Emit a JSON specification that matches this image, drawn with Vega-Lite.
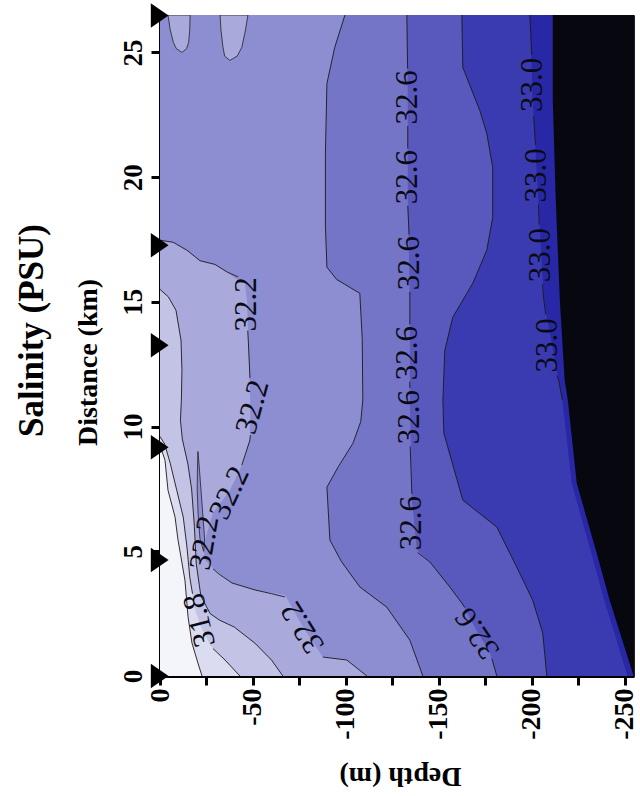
{
  "$schema": "https://vega.github.io/schema/vega-lite/v6.json",
  "width": 474,
  "height": 661,
  "autosize": {"type": "none"},
  "padding": {"left": 160, "top": 15, "right": 6, "bottom": 120},
  "background": "white",
  "config": {
    "view": {"stroke": "#222", "strokeWidth": 1},
    "font": "Liberation Serif"
  },
  "title": {
    "text": "Salinity (PSU)",
    "orient": "left",
    "anchor": "middle",
    "font": "Liberation Serif",
    "fontWeight": "bold",
    "fontSize": 35,
    "offset": 24,
    "dx": 15,
    "color": "#000"
  },
  "datasets": {
    "bands": [
      {"s": "A", "b": "A", "dist": 0, "d1": 0, "d2": -260},
      {"s": "A", "b": "A", "dist": 26.5, "d1": 0, "d2": -260},

      {"s": "B", "b": "B", "dist": 0, "d1": -22.6, "d2": -260},
      {"s": "B", "b": "B", "dist": 0.52, "d1": -20.4, "d2": -260},
      {"s": "B", "b": "B", "dist": 1.32, "d1": -17.2, "d2": -260},
      {"s": "B", "b": "B", "dist": 2.36, "d1": -15.1, "d2": -260},
      {"s": "B", "b": "B", "dist": 3.85, "d1": -13.4, "d2": -260},
      {"s": "B", "b": "B", "dist": 5.45, "d1": -9.7, "d2": -260},
      {"s": "B", "b": "B", "dist": 6.37, "d1": -8.1, "d2": -260},
      {"s": "B", "b": "B", "dist": 7.45, "d1": -4.3, "d2": -260},
      {"s": "B", "b": "B", "dist": 8.65, "d1": -2.7, "d2": -260},
      {"s": "B", "b": "B", "dist": 9.25, "d1": 0, "d2": -260},
      {"s": "B", "b": "B", "dist": 26.5, "d1": 0, "d2": -260},

      {"s": "C", "b": "C", "dist": 0, "d1": -43, "d2": -260},
      {"s": "C", "b": "C", "dist": 0.64, "d1": -35, "d2": -260},
      {"s": "C", "b": "C", "dist": 1.24, "d1": -27, "d2": -260},
      {"s": "C", "b": "C", "dist": 1.96, "d1": -22, "d2": -260},
      {"s": "C", "b": "C", "dist": 2.76, "d1": -18.5, "d2": -260},
      {"s": "C", "b": "C", "dist": 3.97, "d1": -16, "d2": -260},
      {"s": "C", "b": "C", "dist": 5.17, "d1": -14.5, "d2": -260},
      {"s": "C", "b": "C", "dist": 6.37, "d1": -12.5, "d2": -260},
      {"s": "C", "b": "C", "dist": 7.45, "d1": -9, "d2": -260},
      {"s": "C", "b": "C", "dist": 8.53, "d1": -5.5, "d2": -260},
      {"s": "C", "b": "C", "dist": 9.3, "d1": -2.5, "d2": -260},
      {"s": "C", "b": "C", "dist": 9.6, "d1": 0, "d2": -260},
      {"s": "C", "b": "C", "dist": 26.5, "d1": 0, "d2": -260},

      {"s": "D", "b": "D", "dist": 0, "d1": -66.1, "d2": -260},
      {"s": "D", "b": "D", "dist": 0.64, "d1": -60, "d2": -260},
      {"s": "D", "b": "D", "dist": 1.32, "d1": -51, "d2": -260},
      {"s": "D", "b": "D", "dist": 1.96, "d1": -40, "d2": -260},
      {"s": "D", "b": "D", "dist": 2.24, "d1": -32, "d2": -260},
      {"s": "D", "b": "D", "dist": 2.5, "d1": -27, "d2": -260},
      {"s": "D", "b": "D", "dist": 3.2, "d1": -22, "d2": -260},
      {"s": "D", "b": "D", "dist": 4.5, "d1": -19.5, "d2": -260},
      {"s": "D", "b": "D", "dist": 6, "d1": -18.5, "d2": -260},
      {"s": "D", "b": "D", "dist": 7.5, "d1": -17, "d2": -260},
      {"s": "D", "b": "D", "dist": 8.5, "d1": -15, "d2": -260},
      {"s": "D", "b": "D", "dist": 9.5, "d1": -12, "d2": -260},
      {"s": "D", "b": "D", "dist": 10.26, "d1": -11, "d2": -260},
      {"s": "D", "b": "D", "dist": 11.06, "d1": -11.5, "d2": -260},
      {"s": "D", "b": "D", "dist": 12.26, "d1": -11.8, "d2": -260},
      {"s": "D", "b": "D", "dist": 13.46, "d1": -11.3, "d2": -260},
      {"s": "D", "b": "D", "dist": 14.66, "d1": -8.6, "d2": -260},
      {"s": "D", "b": "D", "dist": 15.2, "d1": -4.5, "d2": -260},
      {"s": "D", "b": "D", "dist": 15.5, "d1": 0, "d2": -260},
      {"s": "D", "b": "D", "dist": 26.5, "d1": 0, "d2": -260},

      {"s": "E", "b": "E", "dist": 0, "d1": -111.3, "d2": -260},
      {"s": "E", "b": "E", "dist": 0.64, "d1": -100.5, "d2": -260},
      {"s": "E", "b": "E", "dist": 0.76, "d1": -87.6, "d2": -260},
      {"s": "E", "b": "E", "dist": 1.96, "d1": -76.9, "d2": -260},
      {"s": "E", "b": "E", "dist": 3.25, "d1": -67.2, "d2": -260},
      {"s": "E", "b": "E", "dist": 3.45, "d1": -51.1, "d2": -260},
      {"s": "E", "b": "E", "dist": 3.73, "d1": -38.7, "d2": -260},
      {"s": "E", "b": "E", "dist": 4.25, "d1": -29.6, "d2": -260},
      {"s": "E", "b": "E", "dist": 4.65, "d1": -24.2, "d2": -260},
      {"s": "E", "b": "E", "dist": 5.17, "d1": -23.1, "d2": -260},
      {"s": "E", "b": "E", "dist": 6.53, "d1": -28.5, "d2": -260},
      {"s": "E", "b": "E", "dist": 7.45, "d1": -37.6, "d2": -260},
      {"s": "E", "b": "E", "dist": 8.53, "d1": -44.6, "d2": -260},
      {"s": "E", "b": "E", "dist": 9.46, "d1": -48.4, "d2": -260},
      {"s": "E", "b": "E", "dist": 11.06, "d1": -48.5, "d2": -260},
      {"s": "E", "b": "E", "dist": 13.46, "d1": -47.5, "d2": -260},
      {"s": "E", "b": "E", "dist": 15.06, "d1": -46.8, "d2": -260},
      {"s": "E", "b": "E", "dist": 15.75, "d1": -45.7, "d2": -260},
      {"s": "E", "b": "E", "dist": 15.95, "d1": -40.3, "d2": -260},
      {"s": "E", "b": "E", "dist": 16.2, "d1": -36, "d2": -260},
      {"s": "E", "b": "E", "dist": 16.5, "d1": -29.6, "d2": -260},
      {"s": "E", "b": "E", "dist": 16.65, "d1": -21.5, "d2": -260},
      {"s": "E", "b": "E", "dist": 17.07, "d1": -14.5, "d2": -260},
      {"s": "E", "b": "E", "dist": 17.39, "d1": -7, "d2": -260},
      {"s": "E", "b": "E", "dist": 17.47, "d1": 0, "d2": -260},
      {"s": "E", "b": "E", "dist": 26.5, "d1": 0, "d2": -260},

      {"s": "S", "b": "E", "dist": 5.0, "d1": -23.5, "d2": -23.5},
      {"s": "S", "b": "E", "dist": 5.5, "d1": -21.5, "d2": -24},
      {"s": "S", "b": "E", "dist": 6.5, "d1": -20.5, "d2": -23},
      {"s": "S", "b": "E", "dist": 7.5, "d1": -20, "d2": -22},
      {"s": "S", "b": "E", "dist": 8.5, "d1": -20.2, "d2": -21},
      {"s": "S", "b": "E", "dist": 9.0, "d1": -20.4, "d2": -20.4},

      {"s": "L1", "b": "D", "dist": 25.0, "d1": -11.8, "d2": -11.8},
      {"s": "L1", "b": "D", "dist": 25.15, "d1": -8.8, "d2": -14.3},
      {"s": "L1", "b": "D", "dist": 25.4, "d1": -7.2, "d2": -15.4},
      {"s": "L1", "b": "D", "dist": 25.9, "d1": -5.5, "d2": -16},
      {"s": "L1", "b": "D", "dist": 26.5, "d1": -4.3, "d2": -16.2},

      {"s": "L2", "b": "D", "dist": 24.68, "d1": -37.6, "d2": -37.6},
      {"s": "L2", "b": "D", "dist": 24.85, "d1": -34.8, "d2": -41.5},
      {"s": "L2", "b": "D", "dist": 25.2, "d1": -33.9, "d2": -44},
      {"s": "L2", "b": "D", "dist": 25.9, "d1": -32.8, "d2": -46},
      {"s": "L2", "b": "D", "dist": 26.5, "d1": -32.3, "d2": -47.3},

      {"s": "F", "b": "F", "dist": 0, "d1": -141.4, "d2": -260},
      {"s": "F", "b": "F", "dist": 1.44, "d1": -134.4, "d2": -260},
      {"s": "F", "b": "F", "dist": 2.76, "d1": -122, "d2": -260},
      {"s": "F", "b": "F", "dist": 3.57, "d1": -107.5, "d2": -260},
      {"s": "F", "b": "F", "dist": 4.6, "d1": -97.5, "d2": -260},
      {"s": "F", "b": "F", "dist": 5.45, "d1": -91.4, "d2": -260},
      {"s": "F", "b": "F", "dist": 7.57, "d1": -89.8, "d2": -260},
      {"s": "F", "b": "F", "dist": 8.4, "d1": -96, "d2": -260},
      {"s": "F", "b": "F", "dist": 9.33, "d1": -103.8, "d2": -260},
      {"s": "F", "b": "F", "dist": 10.2, "d1": -108, "d2": -260},
      {"s": "F", "b": "F", "dist": 11.06, "d1": -109.1, "d2": -260},
      {"s": "F", "b": "F", "dist": 13.5, "d1": -108.8, "d2": -260},
      {"s": "F", "b": "F", "dist": 15.34, "d1": -107.5, "d2": -260},
      {"s": "F", "b": "F", "dist": 15.9, "d1": -95, "d2": -260},
      {"s": "F", "b": "F", "dist": 16.39, "d1": -89.8, "d2": -260},
      {"s": "F", "b": "F", "dist": 18, "d1": -89, "d2": -260},
      {"s": "F", "b": "F", "dist": 21, "d1": -89, "d2": -260},
      {"s": "F", "b": "F", "dist": 23.76, "d1": -89.8, "d2": -260},
      {"s": "F", "b": "F", "dist": 25.2, "d1": -94, "d2": -260},
      {"s": "F", "b": "F", "dist": 26.5, "d1": -99.5, "d2": -260},

      {"s": "G", "b": "G", "dist": 0, "d1": -181.2, "d2": -260},
      {"s": "G", "b": "G", "dist": 0.96, "d1": -177.4, "d2": -260},
      {"s": "G", "b": "G", "dist": 1.72, "d1": -171, "d2": -260},
      {"s": "G", "b": "G", "dist": 2.92, "d1": -162.4, "d2": -260},
      {"s": "G", "b": "G", "dist": 3.57, "d1": -155.9, "d2": -260},
      {"s": "G", "b": "G", "dist": 4.57, "d1": -145.2, "d2": -260},
      {"s": "G", "b": "G", "dist": 5.05, "d1": -138.2, "d2": -260},
      {"s": "G", "b": "G", "dist": 7.05, "d1": -135.5, "d2": -260},
      {"s": "G", "b": "G", "dist": 11.06, "d1": -134.4, "d2": -260},
      {"s": "G", "b": "G", "dist": 15.06, "d1": -134.4, "d2": -260},
      {"s": "G", "b": "G", "dist": 19.07, "d1": -133.3, "d2": -260},
      {"s": "G", "b": "G", "dist": 23.08, "d1": -133.3, "d2": -260},
      {"s": "G", "b": "G", "dist": 26.5, "d1": -132.8, "d2": -260},

      {"s": "H", "b": "H", "dist": 0, "d1": -208.1, "d2": -260},
      {"s": "H", "b": "H", "dist": 1.72, "d1": -205.9, "d2": -260},
      {"s": "H", "b": "H", "dist": 3.04, "d1": -200.5, "d2": -260},
      {"s": "H", "b": "H", "dist": 4.37, "d1": -191.9, "d2": -260},
      {"s": "H", "b": "H", "dist": 5.97, "d1": -181.2, "d2": -260},
      {"s": "H", "b": "H", "dist": 7.05, "d1": -162.9, "d2": -260},
      {"s": "H", "b": "H", "dist": 9.74, "d1": -152.7, "d2": -260},
      {"s": "H", "b": "H", "dist": 11.06, "d1": -152.2, "d2": -260},
      {"s": "H", "b": "H", "dist": 13.06, "d1": -153.2, "d2": -260},
      {"s": "H", "b": "H", "dist": 14.38, "d1": -157.5, "d2": -260},
      {"s": "H", "b": "H", "dist": 15.75, "d1": -168.3, "d2": -260},
      {"s": "H", "b": "H", "dist": 17.07, "d1": -175.8, "d2": -260},
      {"s": "H", "b": "H", "dist": 18.39, "d1": -179, "d2": -260},
      {"s": "H", "b": "H", "dist": 20.39, "d1": -179, "d2": -260},
      {"s": "H", "b": "H", "dist": 21.75, "d1": -175.8, "d2": -260},
      {"s": "H", "b": "H", "dist": 22.68, "d1": -172, "d2": -260},
      {"s": "H", "b": "H", "dist": 24.4, "d1": -162.9, "d2": -260},
      {"s": "H", "b": "H", "dist": 26.5, "d1": -162.4, "d2": -260},

      {"s": "I", "b": "I", "dist": 0, "d1": -251.5, "d2": -260},
      {"s": "I", "b": "I", "dist": 3.04, "d1": -239, "d2": -260},
      {"s": "I", "b": "I", "dist": 4.93, "d1": -232, "d2": -260},
      {"s": "I", "b": "I", "dist": 7.73, "d1": -221.5, "d2": -260},
      {"s": "I", "b": "I", "dist": 11.06, "d1": -216.5, "d2": -260},
      {"s": "I", "b": "I", "dist": 11.86, "d1": -214.5, "d2": -260},
      {"s": "I", "b": "I", "dist": 15.06, "d1": -206.5, "d2": -260},
      {"s": "I", "b": "I", "dist": 19.07, "d1": -203.5, "d2": -260},
      {"s": "I", "b": "I", "dist": 23.08, "d1": -200.5, "d2": -260},
      {"s": "I", "b": "I", "dist": 26.5, "d1": -199, "d2": -260},

      {"s": "J", "b": "J", "dist": 0, "d1": -254.8, "d2": -260},
      {"s": "J", "b": "J", "dist": 3.04, "d1": -241.9, "d2": -260},
      {"s": "J", "b": "J", "dist": 4.93, "d1": -234.9, "d2": -260},
      {"s": "J", "b": "J", "dist": 7.73, "d1": -224.2, "d2": -260},
      {"s": "J", "b": "J", "dist": 11.06, "d1": -219.4, "d2": -260},
      {"s": "J", "b": "J", "dist": 11.86, "d1": -217.7, "d2": -260},
      {"s": "J", "b": "J", "dist": 15.06, "d1": -215.1, "d2": -260},
      {"s": "J", "b": "J", "dist": 19.07, "d1": -212.9, "d2": -260},
      {"s": "J", "b": "J", "dist": 23.08, "d1": -211.3, "d2": -260},
      {"s": "J", "b": "J", "dist": 26.5, "d1": -211.3, "d2": -260}
    ],
    "lines": [
      {"seg": "w", "dist": 0, "depth": -22.6},
      {"seg": "w", "dist": 0.52, "depth": -20.4},
      {"seg": "w", "dist": 1.32, "depth": -17.2},
      {"seg": "w", "dist": 2.36, "depth": -15.1},
      {"seg": "w", "dist": 3.85, "depth": -13.4},
      {"seg": "w", "dist": 5.45, "depth": -9.7},
      {"seg": "w", "dist": 6.37, "depth": -8.1},
      {"seg": "w", "dist": 7.45, "depth": -4.3},
      {"seg": "w", "dist": 8.65, "depth": -2.7},
      {"seg": "w", "dist": 9.25, "depth": 0},

      {"seg": "a1", "dist": 0, "depth": -43},
      {"seg": "a1", "dist": 0.64, "depth": -35},
      {"seg": "a1", "dist": 1.1, "depth": -28.5},
      {"seg": "a2", "dist": 3.3, "depth": -17.5},
      {"seg": "a2", "dist": 3.97, "depth": -16},
      {"seg": "a2", "dist": 5.17, "depth": -14.5},
      {"seg": "a2", "dist": 6.37, "depth": -12.5},
      {"seg": "a2", "dist": 7.45, "depth": -9},
      {"seg": "a2", "dist": 8.53, "depth": -5.5},
      {"seg": "a2", "dist": 9.3, "depth": -2.5},
      {"seg": "a2", "dist": 9.6, "depth": 0},

      {"seg": "b", "dist": 0, "depth": -66.1},
      {"seg": "b", "dist": 0.64, "depth": -60},
      {"seg": "b", "dist": 1.32, "depth": -51},
      {"seg": "b", "dist": 1.96, "depth": -40},
      {"seg": "b", "dist": 2.24, "depth": -32},
      {"seg": "b", "dist": 2.5, "depth": -27},
      {"seg": "b", "dist": 3.2, "depth": -22},
      {"seg": "b", "dist": 4.5, "depth": -19.5},
      {"seg": "b", "dist": 6, "depth": -18.5},
      {"seg": "b", "dist": 7.5, "depth": -17},
      {"seg": "b", "dist": 8.5, "depth": -15},
      {"seg": "b", "dist": 9.5, "depth": -12},
      {"seg": "b", "dist": 10.26, "depth": -11},
      {"seg": "b", "dist": 11.06, "depth": -11.5},
      {"seg": "b", "dist": 12.26, "depth": -11.8},
      {"seg": "b", "dist": 13.46, "depth": -11.3},
      {"seg": "b", "dist": 14.66, "depth": -8.6},
      {"seg": "b", "dist": 15.2, "depth": -4.5},
      {"seg": "b", "dist": 15.5, "depth": 0},

      {"seg": "c1", "dist": 0, "depth": -111.3},
      {"seg": "c1", "dist": 0.64, "depth": -100.5},
      {"seg": "c1", "dist": 0.76, "depth": -87.6},
      {"seg": "c2", "dist": 3.17, "depth": -67.2},
      {"seg": "c2", "dist": 3.3, "depth": -60},
      {"seg": "c2", "dist": 3.45, "depth": -51.1},
      {"seg": "c2", "dist": 3.73, "depth": -38.7},
      {"seg": "c2", "dist": 4.1, "depth": -31.5},
      {"seg": "c2", "dist": 4.3, "depth": -28.5},
      {"seg": "c3", "dist": 8.45, "depth": -44},
      {"seg": "c3", "dist": 9.46, "depth": -48.4},
      {"seg": "c3", "dist": 9.65, "depth": -48.6},
      {"seg": "c4", "dist": 11.95, "depth": -48.4},
      {"seg": "c4", "dist": 13.46, "depth": -47.5},
      {"seg": "c4", "dist": 13.85, "depth": -47.2},
      {"seg": "c5", "dist": 16.0, "depth": -42},
      {"seg": "c5", "dist": 16.2, "depth": -36},
      {"seg": "c5", "dist": 16.5, "depth": -29.6},
      {"seg": "c5", "dist": 16.65, "depth": -21.5},
      {"seg": "c5", "dist": 17.07, "depth": -14.5},
      {"seg": "c5", "dist": 17.39, "depth": -7},
      {"seg": "c5", "dist": 17.47, "depth": 0},

      {"seg": "d", "dist": 0, "depth": -141.4},
      {"seg": "d", "dist": 1.44, "depth": -134.4},
      {"seg": "d", "dist": 2.76, "depth": -122},
      {"seg": "d", "dist": 3.57, "depth": -107.5},
      {"seg": "d", "dist": 4.6, "depth": -97.5},
      {"seg": "d", "dist": 5.45, "depth": -91.4},
      {"seg": "d", "dist": 7.57, "depth": -89.8},
      {"seg": "d", "dist": 8.4, "depth": -96},
      {"seg": "d", "dist": 9.33, "depth": -103.8},
      {"seg": "d", "dist": 10.2, "depth": -108},
      {"seg": "d", "dist": 11.06, "depth": -109.1},
      {"seg": "d", "dist": 13.5, "depth": -108.8},
      {"seg": "d", "dist": 15.34, "depth": -107.5},
      {"seg": "d", "dist": 15.9, "depth": -95},
      {"seg": "d", "dist": 16.39, "depth": -89.8},
      {"seg": "d", "dist": 18, "depth": -89},
      {"seg": "d", "dist": 21, "depth": -89},
      {"seg": "d", "dist": 23.76, "depth": -89.8},
      {"seg": "d", "dist": 25.2, "depth": -94},
      {"seg": "d", "dist": 26.5, "depth": -99.5},

      {"seg": "m1", "dist": 0, "depth": -181.2},
      {"seg": "m1", "dist": 0.7, "depth": -178.5},
      {"seg": "m2", "dist": 2.75, "depth": -164},
      {"seg": "m2", "dist": 2.92, "depth": -162.4},
      {"seg": "m2", "dist": 3.57, "depth": -155.9},
      {"seg": "m2", "dist": 4.57, "depth": -145.2},
      {"seg": "m2", "dist": 4.95, "depth": -138.6},
      {"seg": "m3", "dist": 7.3, "depth": -135.5},
      {"seg": "m3", "dist": 9.2, "depth": -134.6},
      {"seg": "m4", "dist": 11.55, "depth": -134.4},
      {"seg": "m4", "dist": 11.8, "depth": -134.4},
      {"seg": "m5", "dist": 14.1, "depth": -134.4},
      {"seg": "m5", "dist": 15.4, "depth": -134.4},
      {"seg": "m6", "dist": 17.7, "depth": -134},
      {"seg": "m6", "dist": 18.85, "depth": -133.3},
      {"seg": "m7", "dist": 21.15, "depth": -133.3},
      {"seg": "m7", "dist": 22.05, "depth": -133.3},
      {"seg": "m8", "dist": 24.35, "depth": -133.2},
      {"seg": "m8", "dist": 26.5, "depth": -132.8},

      {"seg": "e", "dist": 0, "depth": -208.1},
      {"seg": "e", "dist": 1.72, "depth": -205.9},
      {"seg": "e", "dist": 3.04, "depth": -200.5},
      {"seg": "e", "dist": 4.37, "depth": -191.9},
      {"seg": "e", "dist": 5.97, "depth": -181.2},
      {"seg": "e", "dist": 7.05, "depth": -162.9},
      {"seg": "e", "dist": 9.74, "depth": -152.7},
      {"seg": "e", "dist": 11.06, "depth": -152.2},
      {"seg": "e", "dist": 13.06, "depth": -153.2},
      {"seg": "e", "dist": 14.38, "depth": -157.5},
      {"seg": "e", "dist": 15.75, "depth": -168.3},
      {"seg": "e", "dist": 17.07, "depth": -175.8},
      {"seg": "e", "dist": 18.39, "depth": -179},
      {"seg": "e", "dist": 20.39, "depth": -179},
      {"seg": "e", "dist": 21.75, "depth": -175.8},
      {"seg": "e", "dist": 22.68, "depth": -172},
      {"seg": "e", "dist": 24.4, "depth": -162.9},
      {"seg": "e", "dist": 26.5, "depth": -162.4},

      {"seg": "f1", "dist": 11.06, "depth": -216.5},
      {"seg": "f1", "dist": 11.86, "depth": -214.5},
      {"seg": "f1", "dist": 12.05, "depth": -213.5},
      {"seg": "f2", "dist": 14.5, "depth": -207.5},
      {"seg": "f2", "dist": 15.06, "depth": -206.5},
      {"seg": "f2", "dist": 15.7, "depth": -205.8},
      {"seg": "f3", "dist": 18.1, "depth": -204},
      {"seg": "f3", "dist": 18.9, "depth": -203.6},
      {"seg": "f4", "dist": 21.3, "depth": -202},
      {"seg": "f4", "dist": 22.45, "depth": -201},
      {"seg": "f5", "dist": 24.9, "depth": -200},
      {"seg": "f5", "dist": 26.5, "depth": -199}
    ],
    "labels": [
      {"t": "31.8", "dist": 2.24, "depth": -21.5, "a": 256},
      {"t": "32.2", "dist": 5.33, "depth": -24.2, "a": 280},
      {"t": "32.2", "dist": 7.33, "depth": -37.6, "a": 295},
      {"t": "32.2", "dist": 10.78, "depth": -50, "a": 285},
      {"t": "32.2", "dist": 14.9, "depth": -46.8, "a": 270},
      {"t": "32.2", "dist": 1.96, "depth": -76.9, "a": 238},
      {"t": "32.6", "dist": 23.2, "depth": -133.3, "a": 270},
      {"t": "32.6", "dist": 20.0, "depth": -133.3, "a": 270},
      {"t": "32.6", "dist": 16.55, "depth": -134.4, "a": 270},
      {"t": "32.6", "dist": 12.94, "depth": -133.3, "a": 270},
      {"t": "32.6", "dist": 10.38, "depth": -134.4, "a": 270},
      {"t": "32.6", "dist": 6.13, "depth": -135.5, "a": 270},
      {"t": "32.6", "dist": 1.72, "depth": -171, "a": 236},
      {"t": "33.0", "dist": 23.7, "depth": -200.5, "a": 270},
      {"t": "33.0", "dist": 20.07, "depth": -202.6, "a": 270},
      {"t": "33.0", "dist": 16.87, "depth": -205, "a": 270},
      {"t": "33.0", "dist": 13.26, "depth": -209, "a": 270}
    ],
    "stations": [
      {"dist": 0, "depth": 0},
      {"dist": 4.65, "depth": 0},
      {"dist": 9.17, "depth": 0},
      {"dist": 13.26, "depth": 0},
      {"dist": 17.27, "depth": 0},
      {"dist": 26.48, "depth": 0}
    ]
  },
  "encoding": {
    "y": {
      "field": "dist",
      "type": "quantitative",
      "scale": {"domain": [0, 26.5], "nice": false, "zero": false},
      "axis": {
        "title": "Distance (km)",
        "values": [0, 5, 10, 15, 20, 25],
        "labelAngle": 270,
        "labelFont": "Liberation Serif",
        "labelFontWeight": "bold",
        "labelFontSize": 27,
        "labelColor": "#000",
        "labelPadding": 4,
        "tickSize": 9,
        "tickWidth": 3,
        "tickColor": "#000",
        "domainWidth": 3,
        "domainColor": "#000",
        "grid": false,
        "titleFont": "Liberation Serif",
        "titleFontWeight": "bold",
        "titleFontSize": 28,
        "titleColor": "#000",
        "titleX": -72,
        "titleY": 347,
        "titleBaseline": "middle",
        "titleAlign": "center"
      }
    }
  },
  "layer": [
    {
      "data": {"name": "bands"},
      "transform": [{"filter": "datum.s == 'A'"}],
      "mark": {"type": "area", "clip": true, "orient": "horizontal"},
      "encoding": {
        "x": {
          "field": "d1",
          "type": "quantitative",
          "scale": {"domain": [0, -255], "nice": false, "zero": false},
          "axis": {
            "title": "Depth (m)",
            "values": [0, -25, -50, -75, -100, -125, -150, -175, -200, -225, -250],
            "labelExpr": "datum.value % 50 == 0 ? (datum.value < 0 ? '-' + abs(datum.value) : '0') : ''",
            "labelAngle": 270,
            "labelFont": "Liberation Serif",
            "labelFontWeight": "bold",
            "labelFontSize": 28,
            "labelColor": "#000",
            "labelPadding": 3,
            "tickSize": 9,
            "tickWidth": 3,
            "tickColor": "#000",
            "domainWidth": 3,
            "domainColor": "#000",
            "grid": false,
            "titleFont": "Liberation Serif",
            "titleFontWeight": "bold",
            "titleFontSize": 28,
            "titleColor": "#000",
            "titleAngle": 180,
            "titleX": 240,
            "titleY": 99,
            "titleBaseline": "middle",
            "titleAlign": "center"
          }
        },
        "x2": {"field": "d2"},
        "color": {
          "field": "b",
          "type": "nominal",
          "scale": {
            "domain": ["A", "B", "C", "D", "E", "F", "G", "H", "I", "J"],
            "range": ["#f4f4fb", "#dcdcf0", "#c3c3e6", "#a9a9dc", "#8d8dd2", "#7575c8", "#5858bd", "#3a3ab1", "#2828a6", "#07070f"]
          },
          "legend": null
        }
      }
    },
    {"data": {"name": "bands"}, "transform": [{"filter": "datum.s == 'B'"}], "mark": {"type": "area", "clip": true, "orient": "horizontal"}, "encoding": {"x": {"field": "d1", "type": "quantitative"}, "x2": {"field": "d2"}, "color": {"field": "b", "type": "nominal"}}},
    {"data": {"name": "bands"}, "transform": [{"filter": "datum.s == 'C'"}], "mark": {"type": "area", "clip": true, "orient": "horizontal"}, "encoding": {"x": {"field": "d1", "type": "quantitative"}, "x2": {"field": "d2"}, "color": {"field": "b", "type": "nominal"}}},
    {"data": {"name": "bands"}, "transform": [{"filter": "datum.s == 'D'"}], "mark": {"type": "area", "clip": true, "orient": "horizontal"}, "encoding": {"x": {"field": "d1", "type": "quantitative"}, "x2": {"field": "d2"}, "color": {"field": "b", "type": "nominal"}}},
    {"data": {"name": "bands"}, "transform": [{"filter": "datum.s == 'E'"}], "mark": {"type": "area", "clip": true, "orient": "horizontal"}, "encoding": {"x": {"field": "d1", "type": "quantitative"}, "x2": {"field": "d2"}, "color": {"field": "b", "type": "nominal"}}},
    {"data": {"name": "bands"}, "transform": [{"filter": "datum.s == 'S' || datum.s == 'L1' || datum.s == 'L2'"}], "mark": {"type": "area", "clip": true, "orient": "horizontal", "stroke": "#222", "strokeWidth": 0.8}, "encoding": {"x": {"field": "d1", "type": "quantitative"}, "x2": {"field": "d2"}, "color": {"field": "b", "type": "nominal"}, "detail": {"field": "s"}}},
    {"data": {"name": "bands"}, "transform": [{"filter": "datum.s == 'F'"}], "mark": {"type": "area", "clip": true, "orient": "horizontal"}, "encoding": {"x": {"field": "d1", "type": "quantitative"}, "x2": {"field": "d2"}, "color": {"field": "b", "type": "nominal"}}},
    {"data": {"name": "bands"}, "transform": [{"filter": "datum.s == 'G'"}], "mark": {"type": "area", "clip": true, "orient": "horizontal"}, "encoding": {"x": {"field": "d1", "type": "quantitative"}, "x2": {"field": "d2"}, "color": {"field": "b", "type": "nominal"}}},
    {"data": {"name": "bands"}, "transform": [{"filter": "datum.s == 'H'"}], "mark": {"type": "area", "clip": true, "orient": "horizontal"}, "encoding": {"x": {"field": "d1", "type": "quantitative"}, "x2": {"field": "d2"}, "color": {"field": "b", "type": "nominal"}}},
    {"data": {"name": "bands"}, "transform": [{"filter": "datum.s == 'I'"}], "mark": {"type": "area", "clip": true, "orient": "horizontal"}, "encoding": {"x": {"field": "d1", "type": "quantitative"}, "x2": {"field": "d2"}, "color": {"field": "b", "type": "nominal"}}},
    {"data": {"name": "bands"}, "transform": [{"filter": "datum.s == 'J'"}], "mark": {"type": "area", "clip": true, "orient": "horizontal"}, "encoding": {"x": {"field": "d1", "type": "quantitative"}, "x2": {"field": "d2"}, "color": {"field": "b", "type": "nominal"}}},
    {
      "data": {"name": "lines"},
      "mark": {"type": "line", "clip": true, "color": "#1a1a1a", "strokeWidth": 0.9},
      "encoding": {
        "x": {"field": "depth", "type": "quantitative"},
        "detail": {"field": "seg"},
        "order": {"field": "dist", "type": "quantitative"}
      }
    },
    {
      "data": {"name": "labels"},
      "mark": {"type": "text", "font": "Liberation Serif", "fontSize": 31, "color": "#0a0a14", "align": "center", "baseline": "middle"},
      "encoding": {
        "x": {"field": "depth", "type": "quantitative"},
        "text": {"field": "t"},
        "angle": {"field": "a", "type": "quantitative", "scale": null}
      }
    },
    {
      "data": {"name": "stations"},
      "mark": {"type": "point", "shape": "M-0.75,-1L0.7,0L-0.75,1Z", "size": 600, "filled": true, "color": "#000", "opacity": 1, "clip": false},
      "encoding": {
        "x": {"field": "depth", "type": "quantitative"}
      }
    }
  ]
}
